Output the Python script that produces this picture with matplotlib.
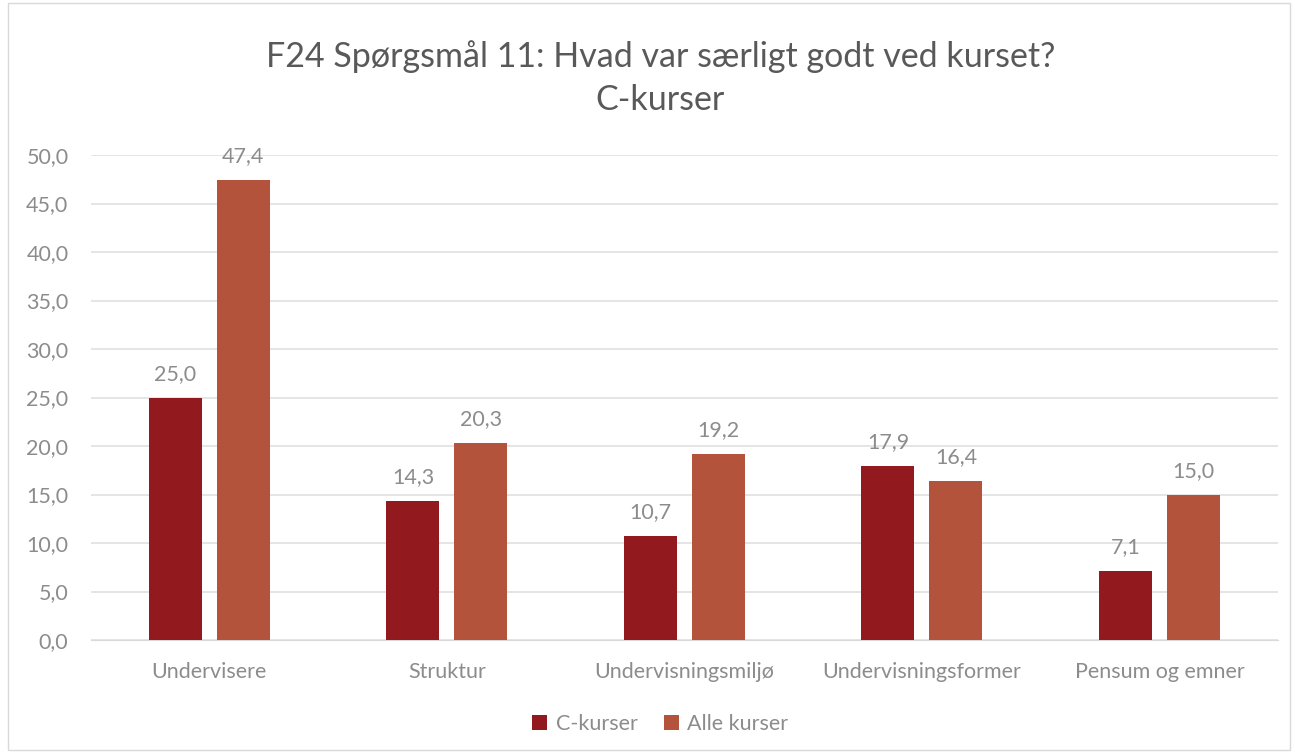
import matplotlib.pyplot as plt
import matplotlib.patches as patches
import numpy as np

plt.rcParams['font.family'] = ['Lato', 'DejaVu Sans']

categories = ['Undervisere', 'Struktur', 'Undervisningsmiljø', 'Undervisningsformer', 'Pensum og emner']
c_kurser = [25.0, 14.3, 10.7, 17.9, 7.1]
alle_kurser = [47.4, 20.3, 19.2, 16.4, 15.0]
yticks = np.arange(0, 50.1, 5)

col_c = '#921A1F'
col_alle = '#B3533C'
txt = '#8C8C8C'

fig = plt.figure(figsize=(12.95, 7.55), dpi=100)
ax = fig.add_axes([0.070, 0.1523, 0.917, 0.6424])

x = np.arange(len(categories))
w = 0.223
off = 0.143
b1 = ax.bar(x - off, c_kurser, w, color=col_c, label='C-kurser', zorder=3)
b2 = ax.bar(x + off, alle_kurser, w, color=col_alle, label='Alle kurser', zorder=3)

for bars in (b1, b2):
    for b in bars:
        h = b.get_height()
        ax.annotate(f'{h:.1f}'.replace('.', ','), (b.get_x() + b.get_width() / 2, h),
                    xytext=(0, 10), textcoords='offset points', ha='center', va='bottom',
                    fontsize=15.5, color=txt)

ax.set_xlim(-0.5, len(categories) - 0.5)
ax.set_ylim(0, 50)
ax.set_yticks(yticks)
ax.set_yticklabels([f'{t:.1f}'.replace('.', ',') for t in yticks])
ax.set_xticks(x)
ax.set_xticklabels(categories)
ax.tick_params(axis='both', length=0, labelsize=15.5, labelcolor=txt)
ax.tick_params(axis='x', pad=16)
ax.tick_params(axis='y', pad=16)
ax.yaxis.grid(True, color='#E0E0E0', linewidth=1.2, zorder=0)
for s in ['top', 'right', 'left']:
    ax.spines[s].set_visible(False)
ax.spines['bottom'].set_color('#D9D9D9')

fig.text(0.51, 0.925, 'F24 Spørgsmål 11: Hvad var særligt godt ved kurset?', ha='center', va='center',
         fontsize=24.5, color='#595959')
fig.text(0.51, 0.867, 'C-kurser', ha='center', va='center', fontsize=24.5, color='#595959')

leg = fig.legend(loc='center', bbox_to_anchor=(0.51, 0.041), ncol=2, frameon=False,
                 fontsize=15.5, handlelength=0.7, handleheight=0.7, columnspacing=1.2, handletextpad=0.4)
for t in leg.get_texts():
    t.set_color(txt)

fig.patches.append(patches.Rectangle((0.006, 0.006), 0.99, 0.99, transform=fig.transFigure,
                                     fill=False, edgecolor='#D9D9D9', linewidth=1))

fig.savefig('out.png', dpi=100)
